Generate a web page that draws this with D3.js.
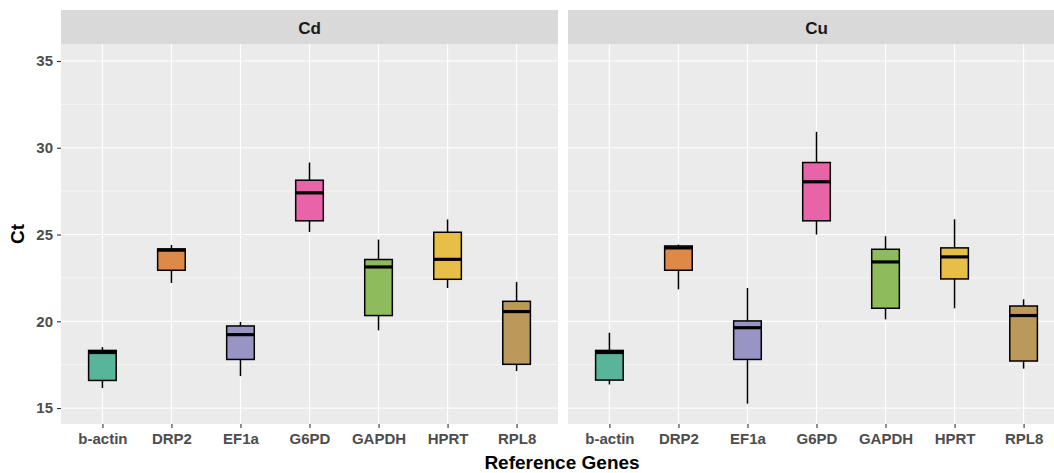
<!DOCTYPE html>
<html>
<head>
<meta charset="utf-8">
<script src="https://cdn.jsdelivr.net/npm/d3@7"></script>
<style>
  body { margin: 0; background: #fff; }
  text { font-family: "Liberation Sans", Arial, sans-serif; }
</style>
</head>
<body>
<div class="canvas"></div>
<script>
const genes = ["b-actin", "DRP2", "EF1a", "G6PD", "GAPDH", "HPRT", "RPL8"];
const metals = ["Cd", "Cu"];
const colours = ["#1B9E77", "#D95F02", "#7570B3", "#E7298A", "#66A61E", "#E6AB02", "#A6761D"];
const yTicks = [15, 20, 25, 30, 35];

// [lower whisker, q1, median, q3, upper whisker] per gene
const cdStats = [
  [16.15, 16.59, 18.2, 18.32, 18.51],
  [22.21, 22.94, 24.1, 24.17, 24.4],
  [16.84, 17.8, 19.23, 19.73, 19.96],
  [25.15, 25.79, 27.4, 28.13, 29.15],
  [19.48, 20.33, 23.13, 23.56, 24.71],
  [21.92, 22.42, 23.57, 25.13, 25.87],
  [17.13, 17.52, 20.56, 21.15, 22.27]
];
const cuStats = [
  [16.36, 16.61, 18.2, 18.32, 19.34],
  [21.84, 22.94, 24.23, 24.34, 24.42],
  [15.25, 17.8, 19.63, 20.02, 21.92],
  [25.0, 25.79, 28.04, 29.15, 30.92],
  [20.11, 20.75, 23.42, 24.15, 24.9],
  [20.75, 22.44, 23.71, 24.23, 25.88],
  [17.27, 17.71, 20.33, 20.88, 21.27]
];
const panelStats = [cdStats, cuStats];

const width = 1054, height = 473;
const panelW = 497, panelTop = 44, panelBottom = 424, stripTop = 10;
const panelLefts = [61, 568];

const svg = d3.select(".canvas")
  .append("svg")
  .attr("width", width)
  .attr("height", height);

const y = d3.scaleLinear().domain([14.08, 35.98]).range([panelBottom, panelTop]);
const colour = d3.scaleOrdinal().domain(genes).range(colours);

metals.forEach((metal, i) => {
  const left = panelLefts[i];
  const x = d3.scalePoint().domain(genes).range([left, left + panelW]).padding(0.6);
  const step = x.step();
  const boxW = step * 0.4;

  const g = svg.append("g");

  // strip
  g.append("rect")
    .attr("x", left).attr("y", stripTop)
    .attr("width", panelW).attr("height", panelTop - stripTop)
    .attr("fill", "#d9d9d9");
  g.append("text")
    .attr("x", left + panelW / 2).attr("y", (stripTop + panelTop) / 2 + 1)
    .attr("text-anchor", "middle").attr("dominant-baseline", "central")
    .attr("font-size", 17).attr("font-weight", "bold").attr("fill", "#1a1a1a")
    .text(metal);

  // panel background
  g.append("rect")
    .attr("x", left).attr("y", panelTop)
    .attr("width", panelW).attr("height", panelBottom - panelTop)
    .attr("fill", "#ebebeb");

  // minor grid
  const minor = d3.range(12.5, 37.5, 5).filter(v => y(v) > panelTop && y(v) < panelBottom);
  g.selectAll(".minor").data(minor).enter().append("line")
    .attr("x1", left).attr("x2", left + panelW)
    .attr("y1", d => y(d)).attr("y2", d => y(d))
    .attr("stroke", "#fff").attr("stroke-width", 0.6);

  // major grid
  g.selectAll(".hmaj").data(yTicks).enter().append("line")
    .attr("x1", left).attr("x2", left + panelW)
    .attr("y1", d => y(d)).attr("y2", d => y(d))
    .attr("stroke", "#fff").attr("stroke-width", 1.2);
  g.selectAll(".vmaj").data(genes).enter().append("line")
    .attr("x1", d => x(d)).attr("x2", d => x(d))
    .attr("y1", panelTop).attr("y2", panelBottom)
    .attr("stroke", "#fff").attr("stroke-width", 1.2);

  // boxes
  const stats = panelStats[i];
  const boxes = g.selectAll(".box").data(genes).enter().append("g");
  boxes.append("line")
    .attr("x1", d => x(d)).attr("x2", d => x(d))
    .attr("y1", (d, j) => y(stats[j][0])).attr("y2", (d, j) => y(stats[j][4]))
    .attr("stroke", "#000").attr("stroke-width", 1.5);
  boxes.append("rect")
    .attr("x", d => x(d) - boxW / 2)
    .attr("y", (d, j) => y(stats[j][3]))
    .attr("width", boxW)
    .attr("height", (d, j) => y(stats[j][1]) - y(stats[j][3]))
    .attr("fill", "#ebebeb").attr("stroke", "none");
  boxes.append("rect")
    .attr("x", d => x(d) - boxW / 2)
    .attr("y", (d, j) => y(stats[j][3]))
    .attr("width", boxW)
    .attr("height", (d, j) => y(stats[j][1]) - y(stats[j][3]))
    .attr("fill", d => colour(d)).attr("fill-opacity", 0.7)
    .attr("stroke", "#000").attr("stroke-width", 1.5);
  boxes.append("line")
    .attr("x1", d => x(d) - boxW / 2).attr("x2", d => x(d) + boxW / 2)
    .attr("y1", (d, j) => y(stats[j][2])).attr("y2", (d, j) => y(stats[j][2]))
    .attr("stroke", "#000").attr("stroke-width", 3.2);

  // x axis
  const xAxis = g.append("g")
    .attr("transform", `translate(0,${panelBottom})`)
    .call(d3.axisBottom(x).tickSize(4).tickPadding(5));
  xAxis.select(".domain").remove();
  xAxis.selectAll("line").attr("stroke", "#333").attr("stroke-width", 1.1);
  xAxis.selectAll("text")
    .attr("font-size", 15).attr("font-weight", "bold").attr("fill", "#4d4d4d")
    .attr("font-family", "Liberation Sans, Arial, sans-serif");

  if (i === 0) {
    const yAxis = g.append("g")
      .attr("transform", `translate(${left},0)`)
      .call(d3.axisLeft(y).tickValues(yTicks).tickSize(4).tickPadding(4));
    yAxis.select(".domain").remove();
    yAxis.selectAll("line").attr("stroke", "#333").attr("stroke-width", 1.1);
    yAxis.selectAll("text")
      .attr("font-size", 15).attr("font-weight", "bold").attr("fill", "#4d4d4d")
      .attr("font-family", "Liberation Sans, Arial, sans-serif");
  }
});

svg.append("text")
  .attr("x", 562).attr("y", 462)
  .attr("text-anchor", "middle").attr("dominant-baseline", "central")
  .attr("font-size", 19).attr("font-weight", "bold").attr("fill", "#000")
  .text("Reference Genes");

svg.append("text")
  .attr("transform", "translate(17,234) rotate(-90)")
  .attr("text-anchor", "middle").attr("dominant-baseline", "central")
  .attr("font-size", 19).attr("font-weight", "bold").attr("fill", "#000")
  .text("Ct");
</script>
</body>
</html>
